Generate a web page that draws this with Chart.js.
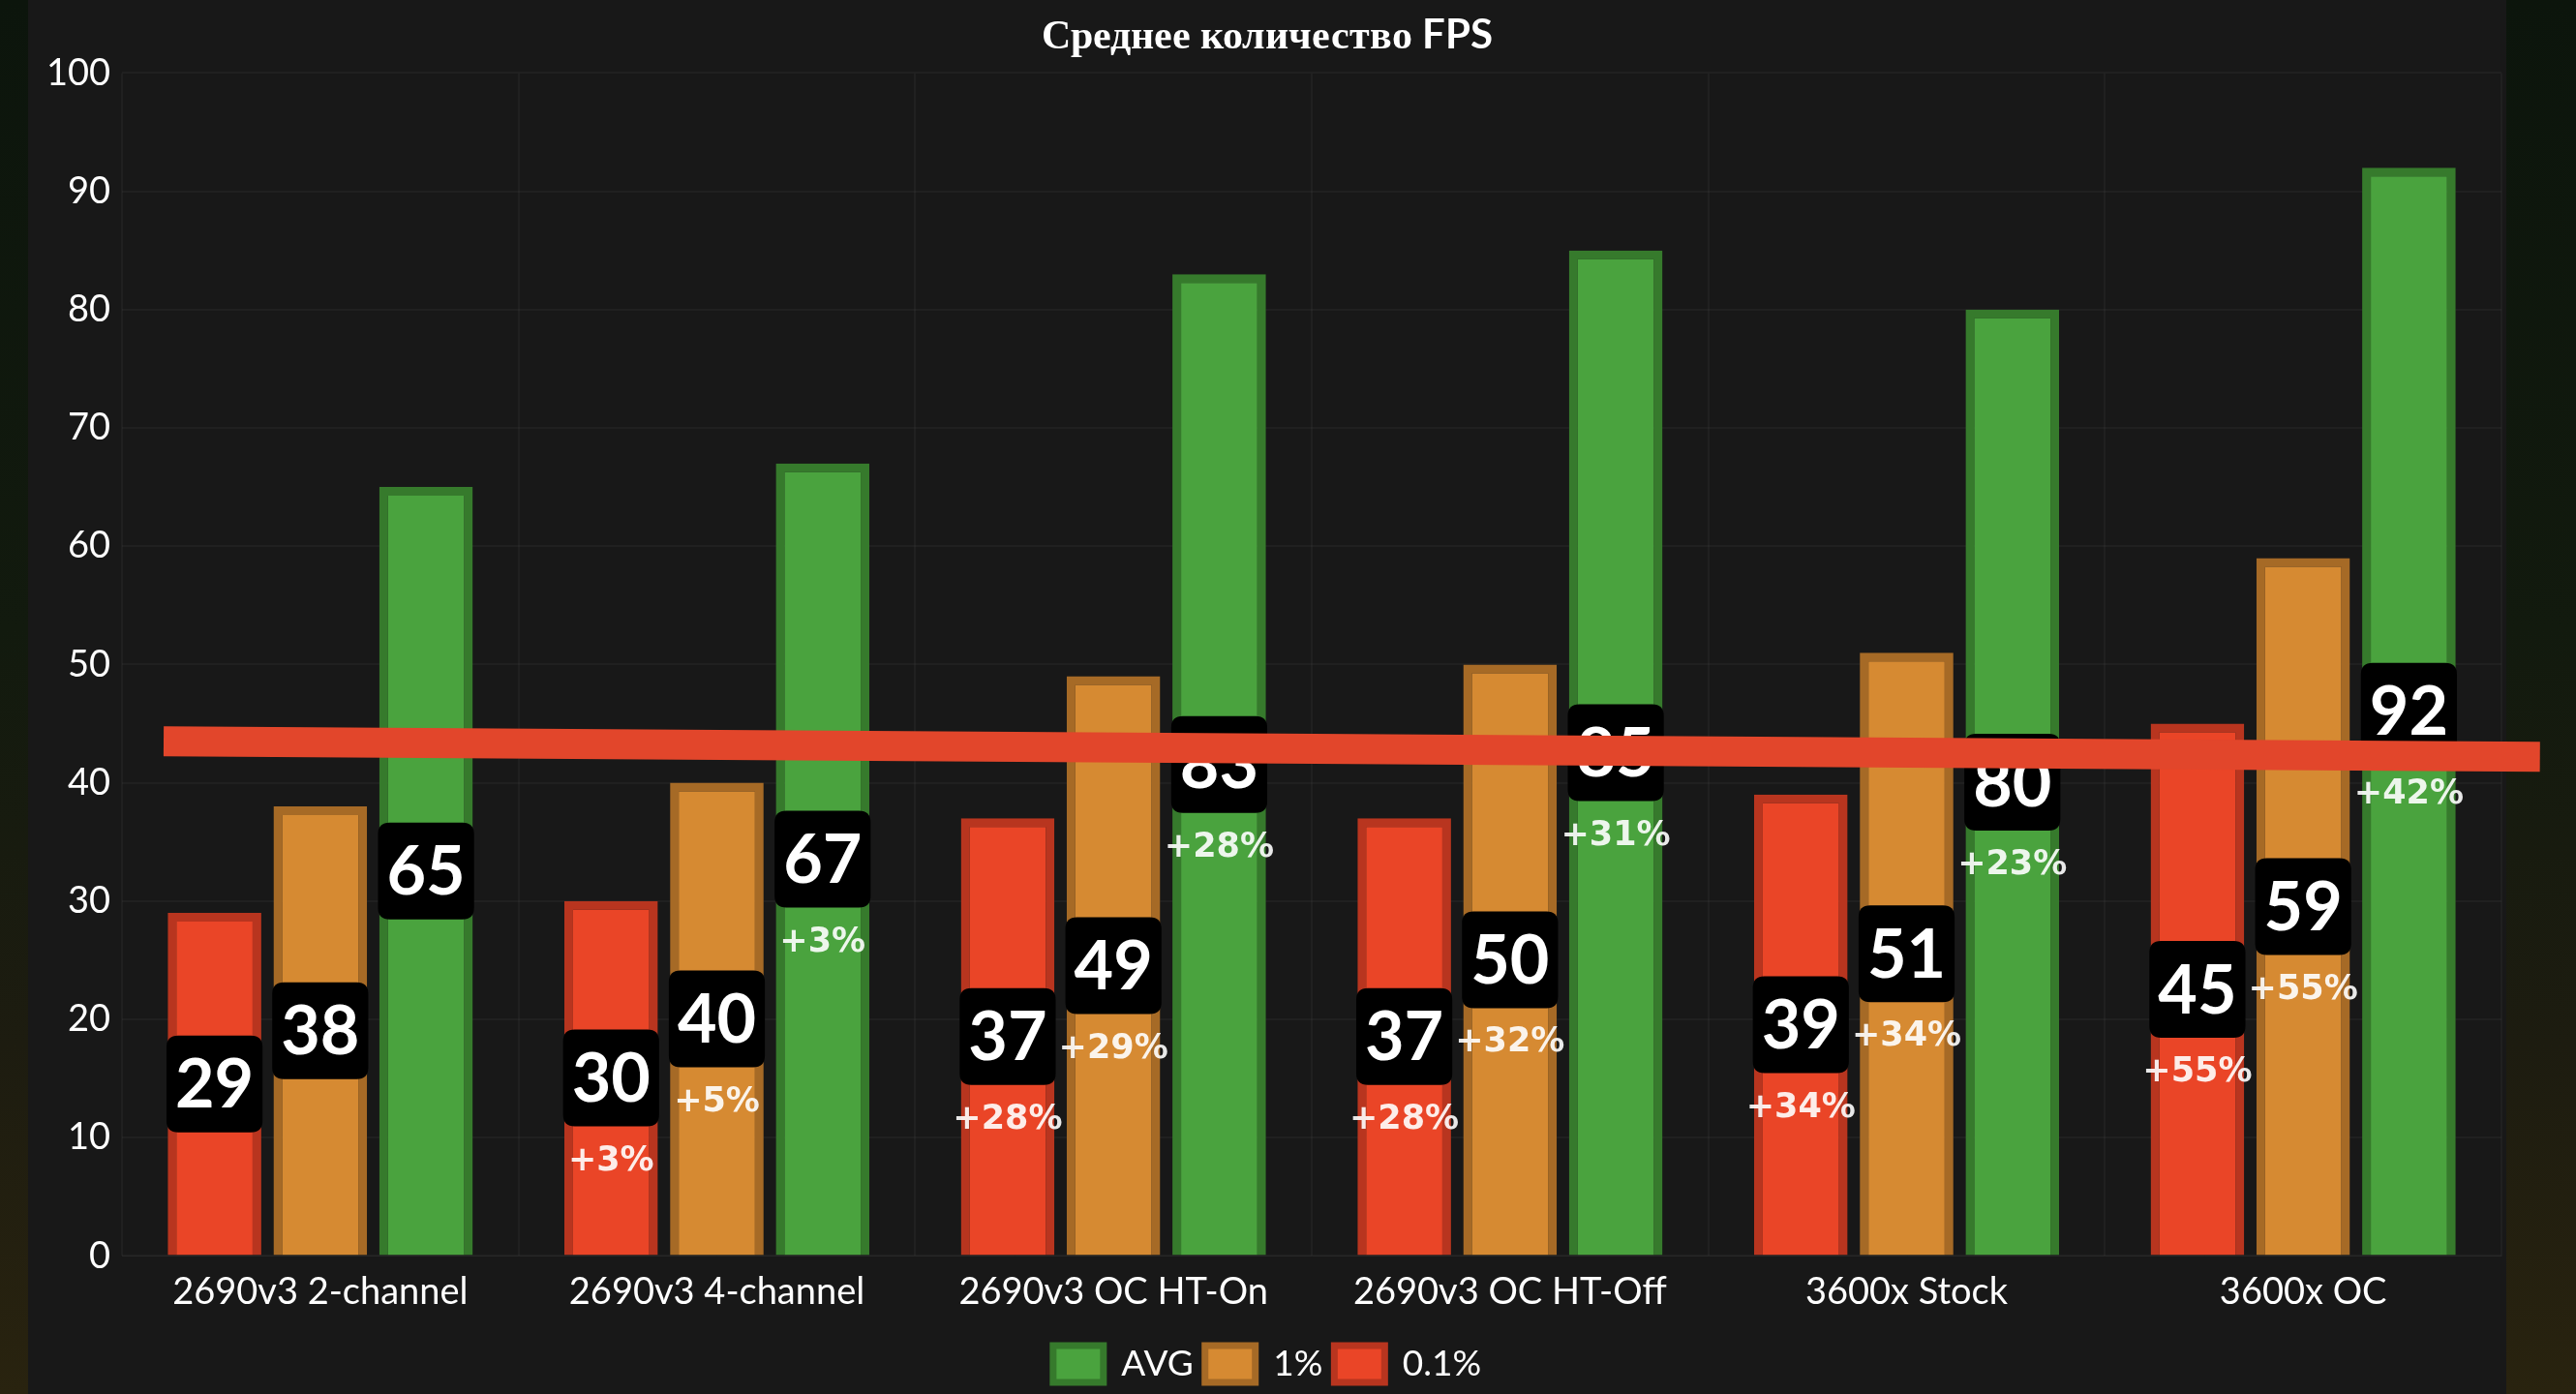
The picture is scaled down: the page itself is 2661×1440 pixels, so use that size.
<!DOCTYPE html>
<html>
<head>
<meta charset="utf-8">
<script src="https://cdn.jsdelivr.net/npm/chart.js@4/dist/chart.umd.min.js"></script>
<style>
  @font-face { font-family: 'TitleMix'; src: local('Liberation Serif Bold'), local('LiberationSerif-Bold'); font-weight: 700; unicode-range: U+0400-04FF; }
  @font-face { font-family: 'TitleMix'; src: local('Lato Bold'), local('Lato-Bold'); font-weight: 700; unicode-range: U+0000-03FF; }
  html, body { margin: 0; padding: 0; }
  body {
    width: 2661px; height: 1440px; overflow: hidden; position: relative;
    background: linear-gradient(180deg, #0c150c 0%, #121a0e 45%, #1d1c10 75%, #29230f 100%);
  }
  #panel { position: absolute; left: 29px; top: 0; width: 2560px; height: 1440px; background: #181818; }
  #wrap { position: absolute; left: 0; top: 0; width: 2661px; height: 1440px; }
</style>
</head>
<body>
<div id="panel"></div>
<div id="wrap"><canvas id="c"></canvas></div>
<script>
// ---- data ----
const categories = ['2690v3 2-channel', '2690v3 4-channel', '2690v3 OC HT-On', '2690v3 OC HT-Off', '3600x Stock', '3600x OC'];
const fps01  = [29, 30, 37, 37, 39, 45];   // 0.1%
const fps1   = [38, 40, 49, 50, 51, 59];   // 1%
const fpsAvg = [65, 67, 83, 85, 80, 92];   // AVG
const pct01  = ['', '+3%', '+28%', '+28%', '+34%', '+55%'];
const pct1   = ['', '+5%', '+29%', '+32%', '+34%', '+55%'];
const pctAvg = ['', '+3%', '+28%', '+31%', '+23%', '+42%'];
const yTicksMin = 0, yTicksMax = 100, yTicksStep = 10;
// hand-drawn overlay stroke in data units (category index, fps)
const overlayX = [-0.395, 5.597];
const overlayY = [43.5, 42.2];

const titleText = 'Среднее количество FPS';

function roundRect(ctx, x, y, w, h, r) {
  ctx.beginPath();
  ctx.moveTo(x + r, y);
  ctx.lineTo(x + w - r, y);
  ctx.quadraticCurveTo(x + w, y, x + w, y + r);
  ctx.lineTo(x + w, y + h - r);
  ctx.quadraticCurveTo(x + w, y + h, x + w - r, y + h);
  ctx.lineTo(x + r, y + h);
  ctx.quadraticCurveTo(x, y + h, x, y + h - r);
  ctx.lineTo(x, y + r);
  ctx.quadraticCurveTo(x, y, x + r, y);
  ctx.closePath();
}

const barLabels = {
  id: 'barLabels',
  afterDatasetsDraw(chart) {
    const ctx = chart.ctx;
    ctx.save();
    chart.data.datasets.forEach((ds, di) => {
      const meta = chart.getDatasetMeta(di);
      meta.data.forEach((bar, i) => {
        const cx = bar.x;
        const cy = (bar.y + bar.base) / 2;
        const txt = String(ds.data[i]);
        ctx.font = 'bold 70px Lato';
        const tw = ctx.measureText(txt).width;
        const bw = Math.max(tw + 18, 97), bh = 100;
        ctx.fillStyle = '#000000';
        roundRect(ctx, cx - bw / 2, cy - bh / 2, bw, bh, 12);
        ctx.fill();
        ctx.fillStyle = '#ffffff';
        ctx.textAlign = 'center';
        ctx.textBaseline = 'middle';
        ctx.fillText(txt, cx, cy + 2);
        const p = ds.pct[i];
        if (p) {
          ctx.font = 'bold 35px "DejaVu Sans"';
          ctx.fillStyle = 'rgba(255,255,255,0.9)';
          ctx.fillText(p, cx, cy + 86);
        }
      });
    });
    ctx.restore();
  }
};

const overlayStroke = {
  id: 'overlayStroke',
  afterDraw(chart) {
    const ctx = chart.ctx, xs = chart.scales.x, ys = chart.scales.y;
    ctx.save();
    ctx.strokeStyle = '#E2462B';
    ctx.lineWidth = 31;
    ctx.lineCap = 'butt';
    ctx.beginPath();
    ctx.moveTo(xs.getPixelForValue(overlayX[0]), ys.getPixelForValue(overlayY[0]));
    ctx.lineTo(xs.getPixelForValue(overlayX[1]), ys.getPixelForValue(overlayY[1]));
    ctx.stroke();
    ctx.restore();
  }
};

Chart.defaults.font.family = 'Lato, "Liberation Sans", sans-serif';
Chart.defaults.color = '#ffffff';

const gridColor = 'rgba(255,255,255,0.035)';

function makeChart() {
  new Chart(document.getElementById('c'), {
    type: 'bar',
    data: {
      labels: categories,
      datasets: [
        { label: '0.1%', data: fps01, pct: pct01, backgroundColor: '#EA4527', borderColor: '#B8351F', borderWidth: 9 },
        { label: '1%', data: fps1, pct: pct1, backgroundColor: '#D68A32', borderColor: '#A66A26', borderWidth: 9 },
        { label: 'AVG', data: fpsAvg, pct: pctAvg, backgroundColor: '#4AA33E', borderColor: '#367A2C', borderWidth: 9 }
      ]
    },
    options: {
      responsive: true,
      maintainAspectRatio: false,
      animation: false,
      devicePixelRatio: 1,
      categoryPercentage: 0.8,
      barPercentage: 0.885,
      layout: { padding: { left: 34, right: 77, top: 0, bottom: 2 } },
      plugins: {
        title: {
          display: true,
          text: titleText,
          color: '#ffffff',
          font: { size: 42, weight: 'bold', family: 'TitleMix, "Liberation Serif", serif' },
          padding: { top: 12, bottom: 13 }
        },
        legend: {
          display: true,
          position: 'bottom',
          reverse: true,
          labels: {
            color: '#ffffff',
            font: { size: 37 },
            boxWidth: 52,
            boxHeight: 38,
            padding: 12,
            generateLabels(chart) {
              const items = Chart.defaults.plugins.legend.labels.generateLabels(chart);
              items.forEach(it => { it.lineWidth = 7; });
              return items;
            }
          }
        },
        tooltip: { enabled: false }
      },
      scales: {
        x: {
          grid: { color: gridColor, lineWidth: 2, drawTicks: false },
          border: { color: gridColor },
          ticks: { color: '#ffffff', font: { size: 38 }, padding: 15 },
          afterFit(scale) { scale.height += 5; }
        },
        y: {
          min: yTicksMin, max: yTicksMax,
          grid: { color: gridColor, lineWidth: 2, drawTicks: false },
          border: { display: false },
          ticks: { stepSize: yTicksStep, color: '#ffffff', font: { size: 38 }, padding: 12 },
          afterFit(scale) { scale.width = 92; }
        }
      }
    },
    plugins: [barLabels, overlayStroke]
  });
}

let made = false;
function once() { if (!made) { made = true; makeChart(); } }
if (document.fonts && document.fonts.load) {
  Promise.all([
    document.fonts.load('700 42px TitleMix', 'Ср'),
    document.fonts.load('700 42px TitleMix', 'FPS')
  ]).then(once, once);
  setTimeout(once, 1500);
} else {
  once();
}
</script>
</body>
</html>
